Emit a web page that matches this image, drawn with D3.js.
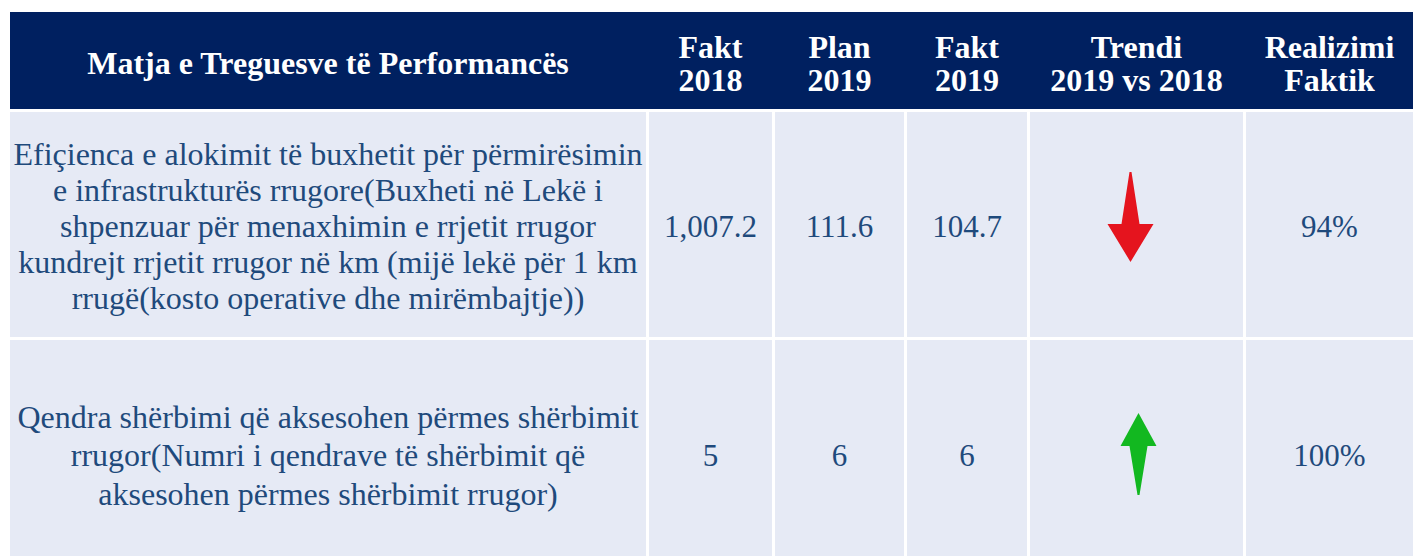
<!DOCTYPE html>
<html>
<head>
<meta charset="utf-8">
<script src="https://cdn.jsdelivr.net/npm/d3@7"></script>
<style>
  body { margin: 0; background: #fff; }
</style>
</head>
<body>
<svg width="1413" height="556"></svg>
<script>
// table data
var headers = [
    ['Matja e Treguesve të Performancës'],
    ['Fakt', '2018'],
    ['Plan', '2019'],
    ['Fakt', '2019'],
    ['Trendi', '2019 vs 2018'],
    ['Realizimi', 'Faktik']
]

var indicators = [
    ['Efiçienca e alokimit të buxhetit për përmirësimin',
     'e infrastrukturës rrugore(Buxheti në Lekë i',
     'shpenzuar për menaxhimin e rrjetit rrugor',
     'kundrejt rrjetit rrugor në km (mijë lekë për 1 km',
     'rrugë(kosto operative dhe mirëmbajtje))'],
    ['Qendra shërbimi që aksesohen përmes shërbimit',
     'rrugor(Numri i qendrave të shërbimit që',
     'aksesohen përmes shërbimit rrugor)']
]

var fakt2018 = ['1,007.2', '5']
var plan2019 = ['111.6', '6']
var fakt2019 = ['104.7', '6']
var trend = ['down', 'up']
var realizimi = ['94%', '100%']

// layout
var colEdges = [10, 646, 772, 904, 1027, 1243, 1413]
var rowEdges = [12, 109, 337, 556]
var rowMid = [63, 226, 455]   // visual middle of each row (last row runs off the page)
var lineH = [33, 36, 38.5]
var gap = 3
var serif = 'Liberation Serif, Times New Roman, Times, serif'

var svg = d3.select('svg')

var rows = [headers].concat(indicators.map(function(d, i){
    return [d, [fakt2018[i]], [plan2019[i]], [fakt2019[i]], [trend[i]], [realizimi[i]]]
}))

var cells = []
rows.forEach(function(r, ri){
    r.forEach(function(c, ci){
        cells.push({row: ri, col: ci, lines: c})
    })
})

function x0(d){ return colEdges[d.col] + (d.col > 0 ? gap : 0) }
function x1(d){ return colEdges[d.col + 1] }
function y0(d){ return rowEdges[d.row] + (d.row > 0 ? gap : 0) }
function y1(d){ return rowEdges[d.row + 1] }

function fontSize(d){
    if (d.row == 0) return 32
    return d.col == 0 ? 32 : 31
}

var g = svg.selectAll('g.cell')
    .data(cells)
    .enter()
    .append('g')
    .attr('class', 'cell')

// header is one continuous band, body cells separated by white gaps
g.append('rect')
    .attr('x', function(d){ return d.row == 0 ? colEdges[d.col] : x0(d) })
    .attr('y', y0)
    .attr('width', function(d){ return d.row == 0 ? x1(d) - colEdges[d.col] : x1(d) - x0(d) })
    .attr('height', function(d){ return y1(d) - y0(d) })
    .attr('fill', function(d){ return d.row == 0 ? '#002060' : '#e6eaf5' })

// text cells
g.filter(function(d){ return !(d.row > 0 && d.col == 4) })
    .each(function(d){
        var lh = lineH[d.row]
        var cx = (x0(d) + x1(d)) / 2
        var cy = rowMid[d.row]
        var n = d.lines.length
        d3.select(this).selectAll('text')
            .data(d.lines)
            .enter()
            .append('text')
            .attr('x', cx)
            .attr('y', function(t, i){ return cy + (i - (n - 1) / 2) * lh })
            .attr('dy', '0.35em')
            .attr('text-anchor', 'middle')
            .attr('font-family', serif)
            .attr('font-size', fontSize(d))
            .attr('font-weight', d.row == 0 ? 'bold' : 'normal')
            .attr('fill', d.row == 0 ? '#ffffff' : '#1f4a7c')
            .text(function(t){ return t })
    })

// trend arrows
g.filter(function(d){ return d.row > 0 && d.col == 4 })
    .each(function(d){
        var cx = (x0(d) + x1(d)) / 2
        var up = d.lines[0] == 'up'
        // tapered shaft + head
        var pts = up ? [
            [0, -42], [18, -9], [9, -9], [1, 40], [-1, 40], [-9, -9], [-18, -9]
        ] : [
            [0, 46], [23, 8], [9, 8], [1, -44], [-1, -44], [-9, 8], [-23, 8]
        ]
        var ox = up ? cx + 2 : cx - 6
        var oy = up ? rowMid[d.row] : rowMid[d.row] - 10
        d3.select(this).append('path')
            .attr('d', d3.line()(pts.map(function(p){ return [ox + p[0], oy + p[1]] })) + 'Z')
            .attr('fill', up ? '#12b820' : '#e5141e')
    })
</script>
</body>
</html>
